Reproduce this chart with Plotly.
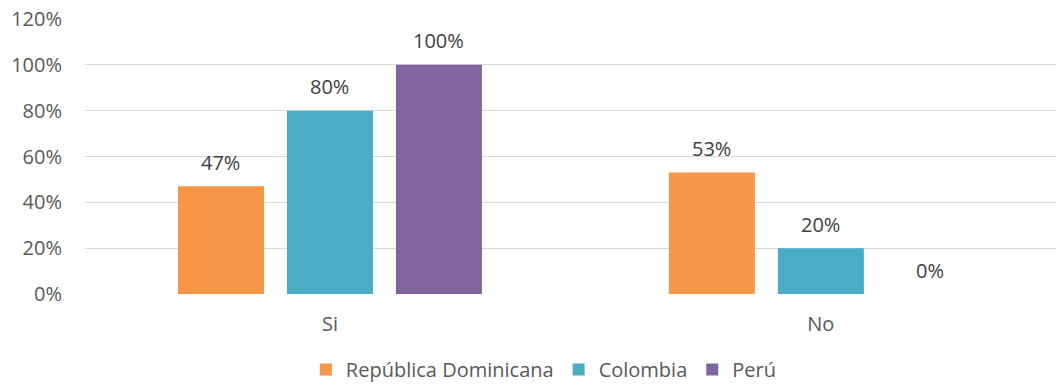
import plotly.graph_objects as go

categories = ["Si", "No"]
series_names = ["República Dominicana", "Colombia", "Perú"]
values = {
    "República Dominicana": [0.47, 0.53],
    "Colombia": [0.80, 0.20],
    "Perú": [1.00, 0.00],
}
colors = {"República Dominicana": "#F79646", "Colombia": "#4BACC6", "Perú": "#8064A2"}
y_ticks = [0, 0.2, 0.4, 0.6, 0.8, 1.0, 1.2]

FONT = "Open Sans"
FS = 20
W, H = 1056, 389
fig = go.Figure()
for name in series_names:
    fig.add_trace(go.Bar(
        x=categories, y=values[name], name=name,
        marker=dict(color=colors[name], line=dict(width=0)),
    ))

# data labels above bars
slot_px = 109
for i, name in enumerate(series_names):
    for cat, v in zip(categories, values[name]):
        fig.add_annotation(
            x=cat, y=v, xref="x", yref="y", text=f"{v:.0%}", showarrow=False,
            xshift=(i - 1) * slot_px, yshift=24, yanchor="middle",
            font=dict(family=FONT, size=FS, color="#404040"),
        )

fig.update_layout(
    width=W, height=H,
    margin=dict(l=0, r=0, t=0, b=0, autoexpand=False),
    paper_bgcolor="white", plot_bgcolor="white",
    barmode="group", bargap=0.334, bargroupgap=0.211,
    font=dict(family=FONT, size=FS, color="#595959"),
    legend=dict(orientation="h", x=0.515, xanchor="center", y=0, yanchor="bottom",
                font=dict(family=FONT, size=FS, color="#595959"),
                traceorder="normal", itemsizing="constant"),
    showlegend=True,
)
fig.update_xaxes(domain=[85 / W, 1], range=[-0.499, 1.479], showgrid=False, zeroline=False,
                 showline=False, ticks="", ticklabelstandoff=16, automargin=False,
                 tickfont=dict(size=FS, color="#595959"))
fig.update_yaxes(domain=[95 / H, 1 - 19 / H], range=[0, 1.2], tickvals=y_ticks, tickformat=".0%",
                 showgrid=True, gridcolor="#d9d9d9", gridwidth=1.3, zeroline=False,
                 showline=False, ticks="", ticklabelstandoff=22, automargin=False,
                 tickfont=dict(size=FS, color="#595959"))

fig.write_html("out.html")
